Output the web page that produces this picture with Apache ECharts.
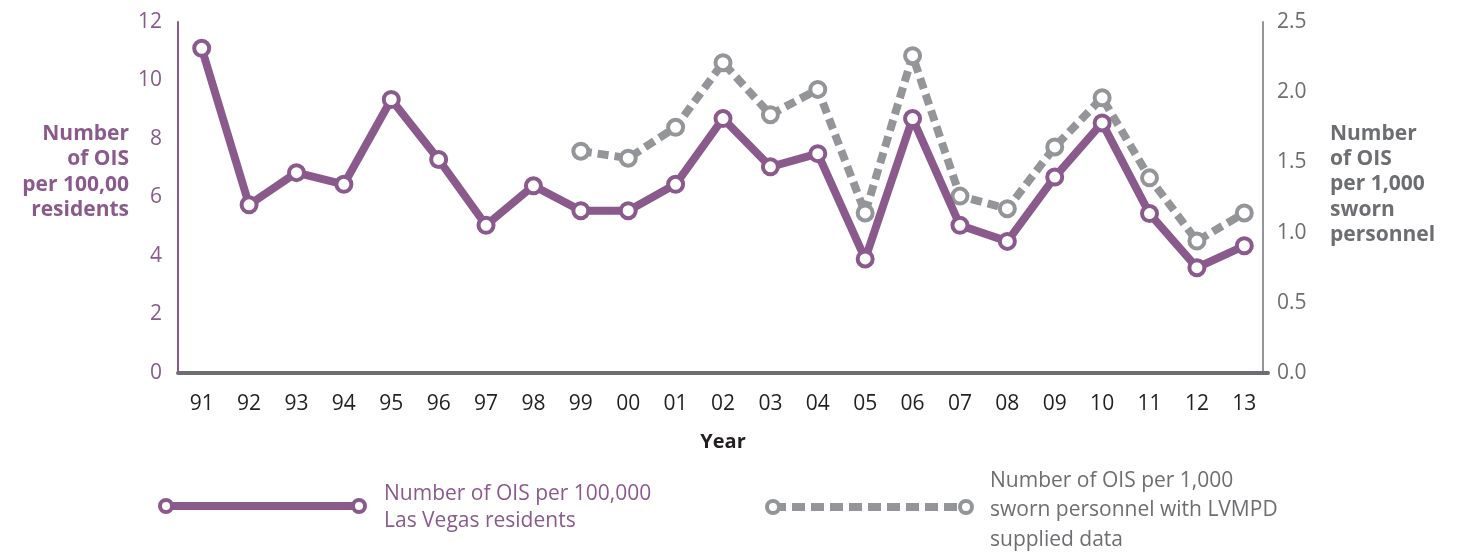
<!DOCTYPE html>
<html>
<head>
<meta charset="utf-8">
<script src="https://cdn.jsdelivr.net/npm/echarts@6/dist/echarts.min.js"></script>
<style>
  html, body { margin: 0; padding: 0; background: #fff; }
  #chart { width: 1460px; height: 553px; }
</style>
</head>
<body>
<div id="chart"></div>
<script>
// years along the x axis
var years = ["91", "92", "93", "94", "95", "96", "97", "98", "99", "00", "01", "02",
  "03", "04", "05", "06", "07", "08", "09", "10", "11", "12", "13"];
// OIS per 100,000 Las Vegas residents (left axis)
var perResidents = [11.1, 5.75, 6.85, 6.45, 9.35, 7.3, 5.05, 6.4, 5.55, 5.55, 6.45, 8.7,
  7.05, 7.5, 3.9, 8.7, 5.05, 4.5, 6.7, 8.55, 5.45, 3.6, 4.35];
// OIS per 1,000 sworn personnel (right axis), no data before 1999
var perSworn = [null, null, null, null, null, null, null, null, 1.58, 1.53, 1.75, 2.21,
  1.84, 2.02, 1.14, 2.26, 1.26, 1.17, 1.61, 1.96, 1.39, 0.94, 1.14];

var purple = "#8a5a8c";
var grey = "#939598";
var font = "Open Sans";

var myChart = echarts.init(document.getElementById("chart"));

var option = {
  animation: false,
  textStyle: { fontFamily: font },
  grid: { left: 178, right: 192, top: 22, bottom: 180 },
  xAxis: {
    type: "category",
    data: years,
    axisLine: { lineStyle: { color: "#6d6e71", width: 4 } },
    axisTick: { show: false },
    axisLabel: { color: "#231f20", fontSize: 21, margin: 21, fontFamily: font },
    name: "Year",
    nameLocation: "middle",
    nameGap: 59,
    nameTextStyle: { color: "#231f20", fontSize: 20, fontWeight: "bold", fontFamily: font }
  },
  yAxis: [
    {
      type: "value",
      min: 0,
      max: 12,
      interval: 2,
      splitLine: { show: false },
      axisLine: { show: true, lineStyle: { color: purple, width: 2 } },
      axisTick: { show: false },
      axisLabel: { color: purple, fontSize: 21, margin: 16, fontFamily: font }
    },
    {
      type: "value",
      min: 0,
      max: 2.5,
      interval: 0.5,
      position: "right",
      offset: -5,
      splitLine: { show: false },
      axisLine: { show: true, lineStyle: { color: grey, width: 2 } },
      axisTick: { show: false },
      axisLabel: {
        color: "#6d6e71", fontSize: 21, margin: 14, fontFamily: font,
        formatter: function (v) { return v.toFixed(1); }
      }
    }
  ],
  series: [
    {
      name: "Number of OIS per 100,000 Las Vegas residents",
      type: "line",
      yAxisIndex: 0,
      data: perResidents,
      symbol: "circle",
      symbolSize: 15,
      z: 3,
      lineStyle: { color: purple, width: 8 },
      itemStyle: { color: "#fff", borderColor: purple, borderWidth: 4 }
    },
    {
      name: "Number of OIS per 1,000 sworn personnel with LVMPD supplied data",
      type: "line",
      yAxisIndex: 1,
      data: perSworn,
      symbol: "circle",
      symbolSize: 15,
      z: 2,
      lineStyle: { color: grey, width: 8, type: [11, 6] },
      itemStyle: { color: "#fff", borderColor: grey, borderWidth: 4 }
    }
  ],
  graphic: [
    // axis titles
    {
      type: "text", x: 129, y: 121,
      style: {
        text: "Number\nof OIS\nper 100,00\nresidents",
        fill: purple, font: "bold 21px '" + font + "'", align: "right", lineHeight: 25.5
      }
    },
    {
      type: "text", x: 1330, y: 121,
      style: {
        text: "Number\nof OIS\nper 1,000\nsworn\npersonnel",
        fill: "#6d6e71", font: "bold 21px '" + font + "'", lineHeight: 25.3
      }
    },
    // legend: residents
    {
      type: "line", shape: { x1: 166, y1: 506, x2: 359, y2: 506 },
      style: { stroke: purple, lineWidth: 8 }
    },
    {
      type: "circle", shape: { cx: 166, cy: 506, r: 6 },
      style: { fill: "#fff", stroke: purple, lineWidth: 4 }
    },
    {
      type: "circle", shape: { cx: 359, cy: 506, r: 6 },
      style: { fill: "#fff", stroke: purple, lineWidth: 4 }
    },
    {
      type: "text", x: 384, y: 481,
      style: {
        text: "Number of OIS per 100,000\nLas Vegas residents",
        fill: purple, font: "21px '" + font + "'", lineHeight: 27
      }
    },
    // legend: sworn personnel
    {
      type: "line", shape: { x1: 773, y1: 507, x2: 966, y2: 507 },
      style: { stroke: grey, lineWidth: 8, lineDash: [13, 6] }
    },
    {
      type: "circle", shape: { cx: 773, cy: 507, r: 6 },
      style: { fill: "#fff", stroke: grey, lineWidth: 4 }
    },
    {
      type: "circle", shape: { cx: 966, cy: 507, r: 6 },
      style: { fill: "#fff", stroke: grey, lineWidth: 4 }
    },
    {
      type: "text", x: 990, y: 466,
      style: {
        text: "Number of OIS per 1,000\nsworn personnel with LVMPD\nsupplied data",
        fill: "#6d6e71", font: "21px '" + font + "'", lineHeight: 29.5
      }
    }
  ]
};

myChart.setOption(option);
</script>
</body>
</html>
